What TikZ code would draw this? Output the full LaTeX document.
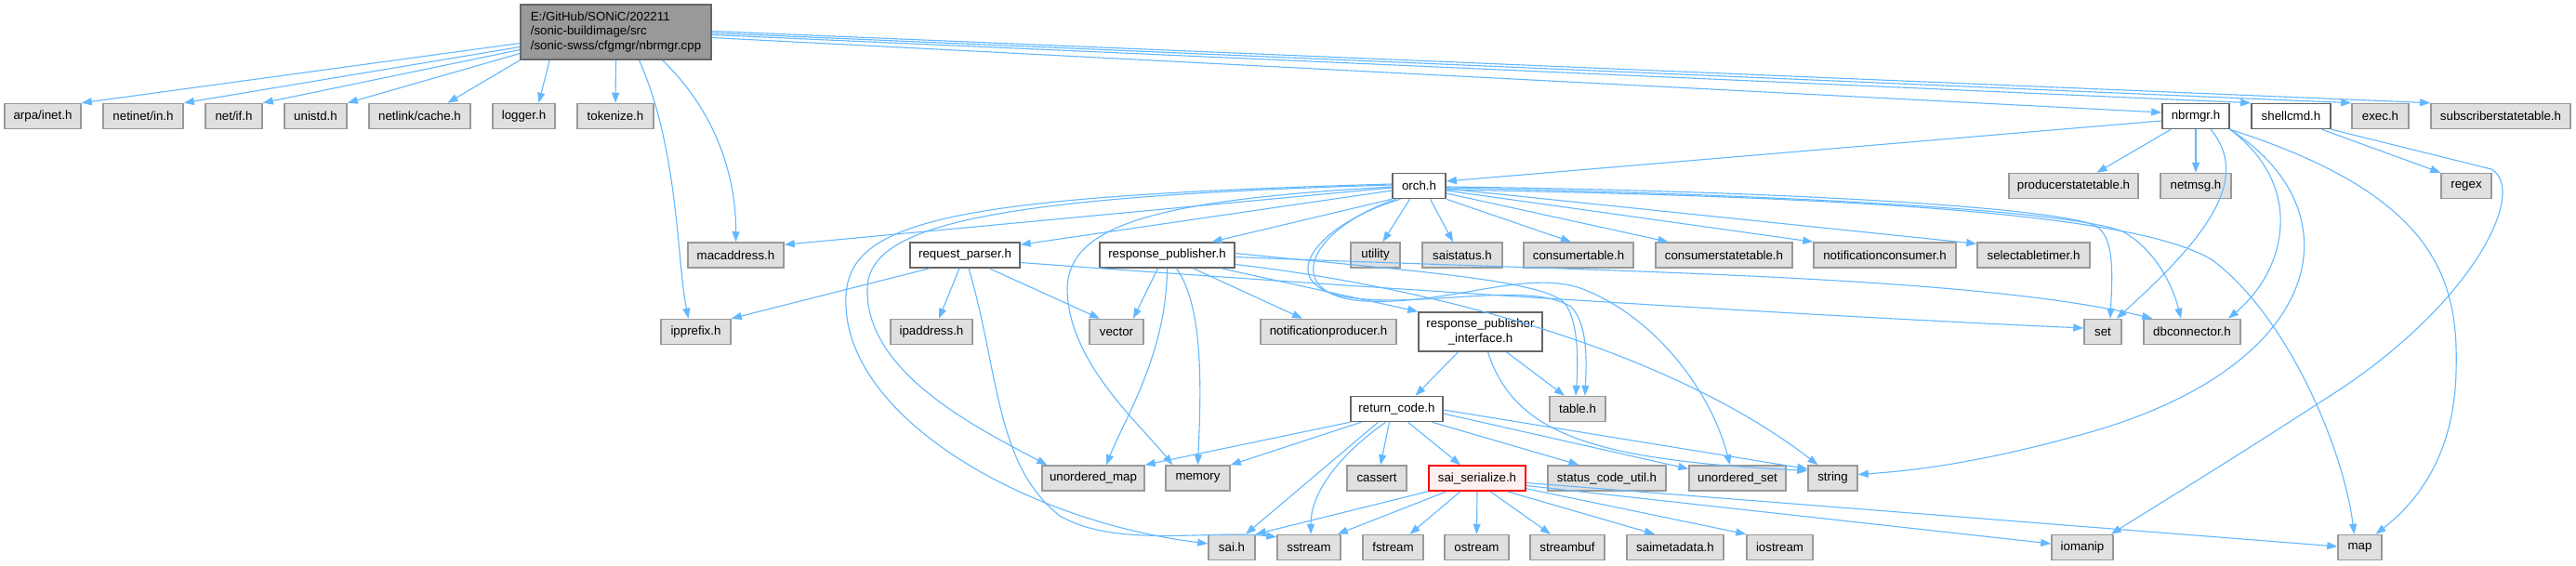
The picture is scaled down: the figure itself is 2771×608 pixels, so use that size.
\documentclass[tikz,border=0pt]{standalone}
\usepackage{fontspec}
\setmainfont{Liberation Sans}
\usetikzlibrary{arrows.meta,calc}
\definecolor{edgec}{HTML}{63B8FF}
\definecolor{gfill}{HTML}{E0E0E0}
\definecolor{gline}{HTML}{999999}
\definecolor{dline}{HTML}{666666}
\definecolor{mfill}{HTML}{999999}
\definecolor{sfill}{HTML}{FFF0F0}
\definecolor{sline}{HTML}{FF0000}
\tikzset{
  basebox/.style={rectangle, inner sep=0pt, minimum height=27, line width=1.5pt,
    font=\fontsize{13.3}{15.5}\selectfont, text=black},
  gb/.style={basebox, draw=gline, fill=gfill},
  wb/.style={basebox, draw=dline, fill=white},
  mb/.style={basebox, draw=dline, fill=mfill, align=left},
  rb/.style={basebox, draw=sline, fill=sfill},
  e/.style={draw=edgec, line width=1.1pt, -{Triangle[length=11pt,width=8pt]}}
}
\begin{document}
\begin{tikzpicture}[x=1pt,y=-1pt]
\useasboundingbox (0,0) rectangle (2771,608);
\fill[white] (0,0) rectangle (2771,608);

% main
\node[mb, minimum width=205, minimum height=59] (main) at (662.5,34.5) {E:/GitHub/SONiC/202211\\/sonic-buildimage/src\\/sonic-swss/cfgmgr/nbrmgr.cpp};

% row A
\node[gb, minimum width=82] (arpa) at (46,125) {arpa/inet.h};
\node[gb, minimum width=86] (netinet) at (154,125) {netinet/in.h};
\node[gb, minimum width=61] (netif) at (251.5,125) {net/if.h};
\node[gb, minimum width=67] (unistd) at (339.5,125) {unistd.h};
\node[gb, minimum width=109] (netlink) at (451.5,125) {netlink/cache.h};
\node[gb, minimum width=67] (logger) at (563.5,125) {logger.h};
\node[gb, minimum width=82] (tokenize) at (662,125) {tokenize.h};
\node[wb, minimum width=72] (nbrmgr) at (2362,125) {nbrmgr.h};
\node[wb, minimum width=85] (shellcmd) at (2464.5,125) {shellcmd.h};
\node[gb, minimum width=61] (exec) at (2560.5,125) {exec.h};
\node[gb, minimum width=150] (sub) at (2690,125) {subscriberstatetable.h};

% row B
\node[wb, minimum width=57] (orch) at (1526.5,200) {orch.h};
\node[gb, minimum width=139] (pst) at (2230.5,200) {producerstatetable.h};
\node[gb, minimum width=76] (netmsg) at (2362,200) {netmsg.h};
\node[gb, minimum width=54] (regex) at (2653,200) {regex};

% row C
\node[gb, minimum width=103] (mac) at (791.5,274.5) {macaddress.h};
\node[wb, minimum width=118] (rp) at (1038,274.5) {request\_parser.h};
\node[wb, minimum width=145] (respub) at (1255.5,274.5) {response\_publisher.h};
\node[gb, minimum width=53] (utility) at (1479.5,274.5) {utility};
\node[gb, minimum width=86] (saistatus) at (1573,274.5) {saistatus.h};
\node[gb, minimum width=118] (ct) at (1698,274.5) {consumertable.h};
\node[gb, minimum width=147] (cst) at (1854.5,274.5) {consumerstatetable.h};
\node[gb, minimum width=153] (nc) at (2027.5,274.5) {notificationconsumer.h};
\node[gb, minimum width=121] (st) at (2187.5,274.5) {selectabletimer.h};

% row D
\node[gb, minimum width=75] (ipprefix) at (748.5,357) {ipprefix.h};
\node[gb, minimum width=88] (ipaddr) at (1002,357) {ipaddress.h};
\node[gb, minimum width=58] (vector) at (1201,357) {vector};
\node[gb, minimum width=146] (np) at (1429,357) {notificationproducer.h};
\node[wb, minimum width=133, minimum height=42, align=center] (rpi) at (1592.5,357) {response\_publisher\\\_interface.h};
\node[gb, minimum width=40] (set) at (2262,357) {set};
\node[gb, minimum width=104] (dbc) at (2358,357) {dbconnector.h};

% row E
\node[wb, minimum width=99] (rc) at (1502.5,440) {return\_code.h};
\node[gb, minimum width=60] (tbl) at (1697,440) {table.h};

% row F
\node[gb, minimum width=110] (umap) at (1176,514.5) {unordered\_map};
\node[gb, minimum width=69] (mem) at (1288.5,514.5) {memory};
\node[gb, minimum width=64] (cassert) at (1481,514.5) {cassert};
\node[rb, minimum width=104] (ss) at (1589,514.5) {sai\_serialize.h};
\node[gb, minimum width=127] (scu) at (1728.5,514.5) {status\_code\_util.h};
\node[gb, minimum width=104] (uset) at (1869,514.5) {unordered\_set};
\node[gb, minimum width=53] (string) at (1971.5,514.5) {string};

% row G
\node[gb, minimum width=50] (saih) at (1325,589) {sai.h};
\node[gb, minimum width=68] (sstream) at (1408,589) {sstream};
\node[gb, minimum width=65] (fstream) at (1498.5,589) {fstream};
\node[gb, minimum width=69] (ostream) at (1588.5,589) {ostream};
\node[gb, minimum width=80] (streambuf) at (1686,589) {streambuf};
\node[gb, minimum width=104] (saimeta) at (1802,589) {saimetadata.h};
\node[gb, minimum width=71] (iostream) at (1914.5,589) {iostream};
\node[gb, minimum width=66] (iomanip) at (2240,589) {iomanip};
\node[gb, minimum width=47] (map) at (2538.5,589) {map};

% ---- edges from main
\draw[e] ([yshift=-12]main.west) -- (arpa.north east);
\draw[e] ([yshift=-16]main.west) -- (netinet.north east);
\draw[e] ([yshift=-19]main.west) -- (netif.north east);
\draw[e] ([yshift=-23]main.west) -- (unistd.north east);
\draw[e] (main.south west) -- ([xshift=30]netlink.north);
\draw[e] ([xshift=32]main.south west) -- ([xshift=16]logger.north);
\draw[e] (main.south) -- (tokenize.north);
\draw[e] ([xshift=25]main.south) .. controls (730,160) and (728,280) .. ([xshift=-8]ipprefix.north);
\draw[e] ([xshift=50]main.south) .. controls (770,120) and (792,190) .. (mac.north);
\draw[e] ([yshift=-6]main.east) -- ([yshift=4]nbrmgr.west);
\draw[e] ([yshift=-3]main.east) -- (shellcmd.north west);
\draw[e] ([yshift=-1]main.east) -- (exec.north west);
\draw[e] ([yshift=1]main.east) -- (sub.north west);

% ---- edges from nbrmgr
\draw[e] ([yshift=-5]nbrmgr.west) -- ([yshift=5]orch.east);
\draw[e] ([xshift=10]nbrmgr.south west) -- ([xshift=25]pst.north);
\draw[e] (nbrmgr.south) -- (netmsg.north);
\draw[e] ([xshift=16]nbrmgr.south) .. controls (2420,190) and (2380,250) .. ([xshift=-6]set.north east);
\draw[e] (nbrmgr.south east) .. controls (2480,200) and (2460,290) .. ([xshift=39]dbc.north);
\draw[e] (nbrmgr.south east) .. controls (2540,230) and (2500,400) .. (2230,470) .. controls (2120,500) and (2050,507) .. ([yshift=4]string.east);
\draw[e] (nbrmgr.south east) .. controls (2620,210) and (2645,300) .. (2642,400) .. controls (2640,490) and (2600,540) .. ([xshift=17]map.north);

% ---- edges from shellcmd
\draw[e] ([xshift=33]shellcmd.south) -- (regex.north west);
\draw[e] (shellcmd.south east) -- (2680,182) .. controls (2720,205) and (2660,330) .. (2500,430) .. controls (2400,495) and (2310,550) .. ([xshift=-3]iomanip.north east);

% ---- edges from orch
\draw[e] ([yshift=-2]orch.west) -- ([yshift=-3]mac.north east);
\draw[e] ([yshift=-5]orch.west) -- ([yshift=-3]rp.north east);
\draw[e] (orch.south west) -- ([xshift=48]respub.north);
\draw[e] ([xshift=-10]orch.south) -- ([xshift=8]utility.north);
\draw[e] ([xshift=12]orch.south) -- ([xshift=-10]saistatus.north);
\draw[e] (orch.south east) -- ([xshift=-8]ct.north);
\draw[e] ([yshift=-8]orch.east) -- ([xshift=-60]cst.north);
\draw[e] ([yshift=-5]orch.east) -- (nc.north west);
\draw[e] ([yshift=-3]orch.east) -- ([yshift=-2]st.north west);
\draw[e] ([yshift=-1]orch.east) .. controls (1900,205) and (2200,222) .. (2252,242) .. controls (2276,252) and (2272,300) .. ([xshift=8]set.north);
\draw[e] ([yshift=-2]orch.east) .. controls (1950,210) and (2240,228) .. (2285,250) .. controls (2320,270) and (2338,310) .. ([xshift=-12]dbc.north);
\draw[e] ([yshift=-4]orch.east) .. controls (2000,212) and (2300,230) .. (2380,280) .. controls (2460,340) and (2520,480) .. ([xshift=-6]map.north);
\draw[e] ([xshift=-20]orch.south) .. controls (1420,240) and (1370,300) .. (1440,318) .. controls (1520,335) and (1640,300) .. (1690,330) .. controls (1710,350) and (1706,400) .. ([xshift=8]tbl.north);
\draw[e] ([xshift=-25]orch.south) .. controls (1400,250) and (1380,320) .. (1470,324) .. controls (1560,328) and (1640,290) .. (1700,310) .. controls (1780,340) and (1840,420) .. ([xshift=-8]uset.north);
\draw[e] ([yshift=2]orch.west) .. controls (1000,212) and (905,240) .. (910,330) .. controls (915,450) and (1100,560) .. ([yshift=4]saih.west);
\draw[e] ([yshift=1]orch.west) .. controls (1050,212) and (935,245) .. (933,310) .. controls (930,400) and (1050,460) .. ([xshift=6]umap.north west);
\draw[e] ([yshift=-1]orch.west) .. controls (1250,215) and (1150,240) .. (1148,310) .. controls (1148,390) and (1230,460) .. ([xshift=8]mem.north west);

% ---- edges from response_publisher
\draw[e] ([xshift=-10]respub.south) -- ([xshift=18]vector.north);
\draw[e] (respub.south) .. controls (1255,380) and (1210,450) .. ([xshift=14]umap.north);
\draw[e] ([xshift=10]respub.south) .. controls (1295,330) and (1292,420) .. (mem.north);
\draw[e] ([xshift=28]respub.south) -- ([xshift=-28]np.north);
\draw[e] ([xshift=58]respub.south) -- (rpi.north west);
\draw[e] ([yshift=2]respub.east) .. controls (1500,290) and (1655,300) .. (1682,325) .. controls (1700,345) and (1697,400) .. ([xshift=-2]tbl.north);
\draw[e] ([yshift=-2]respub.east) .. controls (1700,292) and (2120,295) .. ([xshift=10]dbc.north west);
\draw[e] ([yshift=-10]respub.east) .. controls (1550,310) and (1800,380) .. ([xshift=-16]string.north);

% ---- edges from request_parser
\draw[e] ([xshift=-38]rp.south) -- (ipprefix.north east);
\draw[e] ([xshift=-6]rp.south) -- ([xshift=8]ipaddr.north);
\draw[e] ([xshift=26]rp.south) -- ([xshift=-18]vector.north);
\draw[e] ([xshift=4]rp.south) .. controls (1075,400) and (1070,500) .. (1140,555) .. controls (1200,590) and (1300,570) .. ([yshift=-3]sstream.north west);
\draw[e] ([yshift=-8]rp.east) .. controls (1500,312) and (1950,340) .. ([yshift=4]set.west);

% ---- edges from response_publisher_interface
\draw[e] ([xshift=-24]rpi.south) -- ([xshift=20]rc.north);
\draw[e] ([xshift=28]rpi.south) -- ([xshift=-14]tbl.north);
\draw[e] ([xshift=8]rpi.south) .. controls (1630,470) and (1720,495) .. ([yshift=8]string.west);

% ---- edges from return_code
\draw[e] (rc.south west) -- (umap.north east);
\draw[e] ([xshift=12]rc.south west) -- (mem.north east);
\draw[e] ([xshift=-20]rc.south) -- ([xshift=15]saih.north);
\draw[e] ([xshift=-12]rc.south) .. controls (1440,490) and (1410,530) .. ([xshift=2]sstream.north);
\draw[e] ([xshift=-8]rc.south) -- ([xshift=4]cassert.north);
\draw[e] ([xshift=12]rc.south) -- ([xshift=-18]ss.north);
\draw[e] ([xshift=38]rc.south) -- ([xshift=-30]scu.north);
\draw[e] ([yshift=-5]rc.east) -- ([yshift=10]uset.west);
\draw[e] ([yshift=-1]rc.east) -- ([yshift=10]string.west);

% ---- edges from sai_serialize
\draw[e] (ss.south west) -- (saih.north east);
\draw[e] ([xshift=20]ss.south west) -- ([xshift=-4]sstream.north east);
\draw[e] ([xshift=-18]ss.south) -- ([xshift=18]fstream.north);
\draw[e] (ss.south) -- (ostream.north);
\draw[e] ([xshift=14]ss.south) -- ([xshift=-18]streambuf.north);
\draw[e] ([xshift=32]ss.south) -- ([xshift=-22]saimeta.north);
\draw[e] ([yshift=3]ss.south east) -- (iostream.north west);
\draw[e] ([yshift=-8]ss.east) -- ([yshift=4]iomanip.west);
\draw[e] ([yshift=-5]ss.east) -- ([yshift=1]map.west);
\end{tikzpicture}
\end{document}
